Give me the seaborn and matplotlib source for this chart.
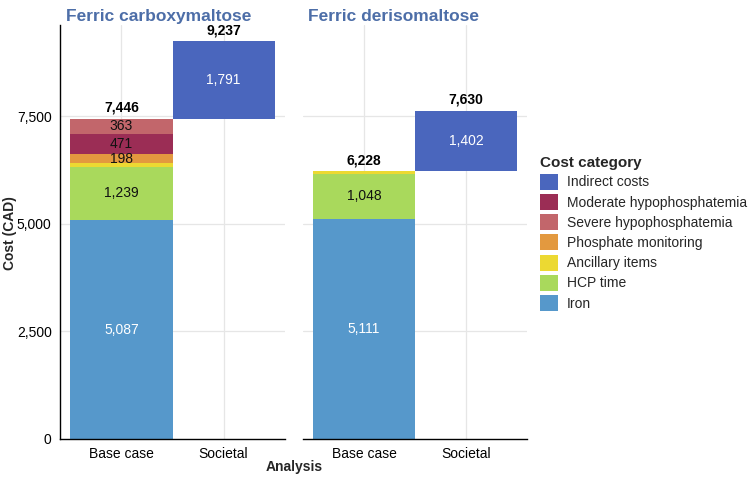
"""
Cost breakdown by analysis (base case vs societal) for two IV irons.
Stacked bars, societal bar floats on top of the base-case total.
"""
import numpy as np
import pandas as pd
import matplotlib
matplotlib.use("Agg")
import matplotlib.pyplot as plt
from matplotlib.patches import Patch
from matplotlib.ticker import FuncFormatter
import seaborn as sns

sns.set_theme(style="white")
plt.rcParams["font.family"] = ["Liberation Sans", "DejaVu Sans"]

# ---------------------------------------------------------------- data
analyses = ["Base case", "Societal"]
drugs = ["Ferric carboxymaltose", "Ferric derisomaltose"]
# stacking order, bottom -> top
stack_cats = ["Iron", "HCP time", "Ancillary items", "Phosphate monitoring",
              "Moderate hypophosphatemia", "Severe hypophosphatemia", "Indirect costs"]
fcm_base = [5087, 1239, 88, 198, 471, 363, 0]
fcm_societal = [0, 0, 0, 0, 0, 0, 1791]
fdi_base = [5111, 1048, 69, 0, 0, 0, 0]
fdi_societal = [0, 0, 0, 0, 0, 0, 1402]

# legend order
legend_cats = ["Indirect costs", "Moderate hypophosphatemia", "Severe hypophosphatemia",
               "Phosphate monitoring", "Ancillary items", "HCP time", "Iron"]
colors = {
    "Indirect costs": "#4a66bd",
    "Moderate hypophosphatemia": "#9b2d55",
    "Severe hypophosphatemia": "#c2666b",
    "Phosphate monitoring": "#e3993f",
    "Ancillary items": "#ecd932",
    "HCP time": "#a9d95c",
    "Iron": "#5698cb",
}
white_text = {"Iron", "Indirect costs"}

panels = {drugs[0]: (fcm_base, fcm_societal), drugs[1]: (fdi_base, fdi_societal)}

# ---------------------------------------------------------------- plot
fig = plt.figure(figsize=(7.5, 4.8), dpi=100)
ax_l = fig.add_axes([60 / 750, 1 - 439 / 480, 225 / 750, 414 / 480])
ax_r = fig.add_axes([303 / 750, 1 - 439 / 480, 224 / 750, 414 / 480], sharey=ax_l)
YMAX = 9620

for ax, drug in zip((ax_l, ax_r), drugs):
    base, soc = panels[drug]
    base_total = sum(base)
    bottoms = np.array([0.0, float(base_total)])
    for i, cat in enumerate(stack_cats):
        heights = [base[i], soc[i]]
        df = pd.DataFrame({"analysis": analyses, "cost": heights})
        sns.barplot(data=df, x="analysis", y="cost", order=analyses, color=colors[cat],
                    saturation=1, width=1, bottom=bottoms.copy(), linewidth=0,
                    ax=ax, zorder=2)
        for j, h in enumerate(heights):
            if h >= 150:
                ax.text(j, bottoms[j] + h / 2, f"{h:,}", ha="center", va="center",
                        fontsize=10, color="white" if cat in white_text else "#111111",
                        zorder=3)
        bottoms = bottoms + np.array(heights, dtype=float)
    for j, top in enumerate(bottoms):
        ax.text(j, top + 90, f"{int(top):,}", ha="center", va="bottom",
                fontsize=10, fontweight="bold", color="black", zorder=3)

    ax.set_xlim(-0.6, 1.6)
    ax.set_ylim(0, YMAX)
    ax.set_xlabel("")
    ax.set_ylabel("")
    ax.set_axisbelow(True)
    for yv in (2500, 5000, 7500):
        ax.axhline(yv, color="#e6e6e6", lw=0.9, zorder=0)
    for xv in (0, 1):
        ax.axvline(xv, color="#e6e6e6", lw=0.9, zorder=0)
    for side in ("top", "right"):
        ax.spines[side].set_visible(False)
    ax.spines["bottom"].set_color("black")
    ax.spines["bottom"].set_linewidth(1.0)
    ax.tick_params(axis="x", length=0, labelsize=10, pad=6, colors="black")

ax_l.spines["left"].set_color("black")
ax_l.spines["left"].set_linewidth(1.0)
ax_l.set_yticks([0, 2500, 5000, 7500])
ax_l.yaxis.set_major_formatter(FuncFormatter(lambda v, p: f"{int(v):,}"))
ax_l.tick_params(axis="y", length=0, labelsize=10, pad=6, labelcolor="black")
ax_r.spines["left"].set_visible(False)
ax_r.tick_params(axis="y", left=False, labelleft=False)

# panel titles
title_color = "#4d6ea8"
fig.text(66 / 750, 1 - 21 / 480, drugs[0], fontsize=12.5, fontweight="bold",
         color=title_color, ha="left", va="baseline")
fig.text(308 / 750, 1 - 21 / 480, drugs[1], fontsize=12.5, fontweight="bold",
         color=title_color, ha="left", va="baseline")

fig.text(294 / 750, 1 - 467 / 480, "Analysis", fontsize=10, fontweight="bold",
         ha="center", va="center")
fig.text(10 / 750, 1 - 233 / 480, "Cost (CAD)", fontsize=10, fontweight="bold",
         rotation=90, ha="center", va="center")

handles = [Patch(facecolor=colors[c], edgecolor="none", label=c) for c in legend_cats]
leg = fig.legend(handles=handles, title="Cost category", loc="upper left",
                 bbox_to_anchor=(534 / 750, 1 - 150 / 480), frameon=False,
                 fontsize=10, title_fontproperties={"weight": "bold", "size": 11},
                 handlelength=1.35, handleheight=1.4, handletextpad=0.6,
                 labelspacing=0.3, borderaxespad=0)
leg._legend_box.align = "left"

fig.savefig("out.png", dpi=100)
